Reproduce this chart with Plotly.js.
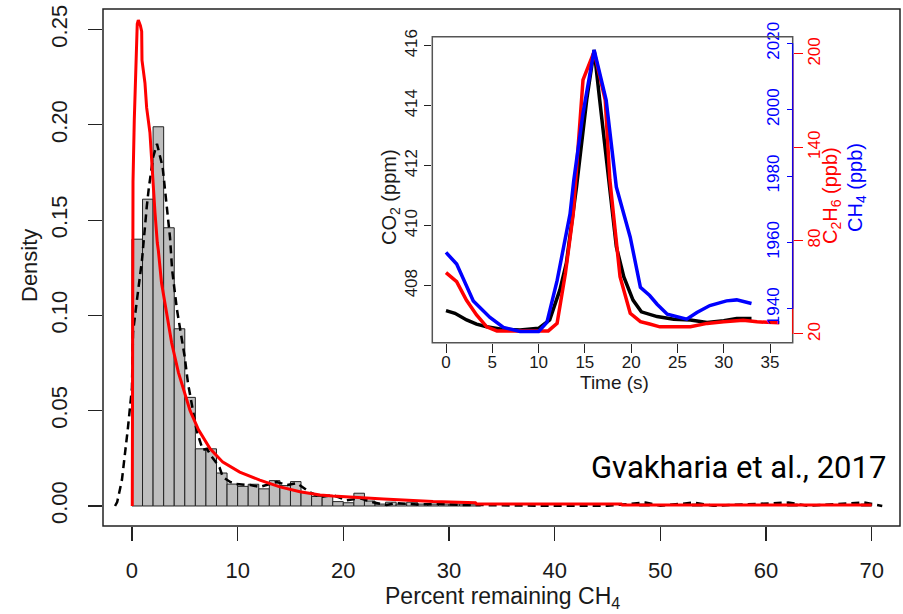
<!DOCTYPE html>
<html>
<head>
<meta charset="utf-8">
<script src="https://cdn.plot.ly/plotly-3.0.1.min.js"></script>
<style>html,body{margin:0;padding:0;background:#fff}#chart{width:903px;height:614px}</style>
</head>
<body>
<div id="chart"></div>
<script>
// ---- Main histogram (density per 1-unit bin, left edges) ----
const histLeft = [0,1,2,3,4,5,6,7,8,9,10,11,12,13,14,15,16,17,18,19,20,21,22,23,24,25,26,27,28,29,30,31,32,48,53,62,69];
const histDensity = [0.140,0.161,0.199,0.146,0.093,0.057,0.030,0.030,0.0173,0.0115,0.0103,0.0114,0.009,0.0133,0.0107,0.0128,0.007,0.005,0.005,0.0023,0.0017,0.0067,0.0026,0.001,0.002,0.001,0.002,0.001,0.001,0.001,0.001,0.001,0.001,0.001,0.001,0.001,0.001];

// ---- Kernel density (dashed black) ----
const kdeX = [-1.6,-1.4,-0.95,-0.66,-0.38,0,0.1,0.47,0.95,1.4,1.6,2.0,2.37,2.9,3.4,3.6,3.8,4.26,5.0,5.3,6.1,6.7,7.1,7.4,8.0,8.3,8.6,9.3,9.9,11.2,12.1,13.7,14.7,15.6,16.8,17.8,19.0,20.3,21.6,22.8,24.1,25.0,27,29,31,33,36,40,45,48.6,50,53.2,55,62.1,64,69.3,71];
const kdeY = [0,0.002,0.0136,0.026,0.041,0.062,0.091,0.108,0.129,0.157,0.167,0.183,0.190,0.178,0.154,0.141,0.124,0.103,0.078,0.0645,0.040,0.0294,0.030,0.027,0.0226,0.020,0.0152,0.0126,0.0115,0.011,0.0100,0.0126,0.011,0.012,0.0073,0.0047,0.0058,0.003,0.004,0.002,0.0005,0.0015,0.0008,0.001,0.0006,0.0004,0.0003,0.0001,0.0001,0.0018,0.0001,0.0018,0.0001,0.0018,0.0001,0.0018,0];

// ---- Fitted distribution (red) ----
const fitX = [0.03,0.06,0.1,0.22,0.38,0.5,0.6,0.8,0.92,0.95,1.23,1.39,1.7,1.86,2.0,2.18,2.4,2.5,2.8,3.3,3.76,4.4,5.0,5.5,6.3,7.4,8.6,10.2,12.1,14.0,15.9,17.8,19.0,20.3,23.8,28.5,32.5,32.6,46.3,46.4,70];
const fitY = [0,0.1,0.17,0.2025,0.229,0.253,0.255,0.252,0.249,0.234,0.222,0.209,0.196,0.1815,0.167,0.154,0.138,0.134,0.117,0.101,0.0855,0.070,0.059,0.050,0.040,0.030,0.023,0.0178,0.0136,0.010,0.0075,0.0058,0.0052,0.0047,0.0037,0.0023,0.0017,0.0011,0.0011,0.0005,0.0005];

// ---- Inset time series ----
const co2Time = [0,0.97,2.23,3.3,4.4,6,8,10,11.2,12.3,13.0,14.1,15.2,16,16.6,17.7,18.4,19.2,20.2,21.1,22.8,24.6,26.4,28.2,30,31.4,33];
const co2 = [407.17,407.08,406.86,406.72,406.63,406.55,406.52,406.58,406.86,407.86,408.75,411.3,414.2,415.86,414.2,411.3,409.3,408.3,407.52,407.13,406.97,406.88,406.86,406.77,406.83,406.91,406.91];
const c2h6Time = [0,1.15,2.2,3.3,4.4,5.5,8,11.05,12,12.9,13.75,14.8,16,17.2,17.7,18.8,19.9,21,22,23.1,26.4,28.2,30,32.1,33.6,36];
const c2h6 = [59.4,53.6,41.8,32.2,24.6,22.0,22.0,22.0,26.8,59,97.6,183.3,201.5,170.4,119,56.8,33.3,27.9,26.4,24.6,24.6,26.8,27.8,28.9,27.8,27.2];
const ch4Time = [0,1.15,2.95,4.75,6.2,8,10,10.9,12,13.4,13.8,14.8,16,17.3,18.4,19.9,21,22,22.8,23.9,26,27.1,28.5,30.3,31.4,33];
const ch4 = [1957.0,1953.5,1942.4,1937.4,1934.4,1933.2,1933.2,1935.9,1948.5,1968.6,1978.7,1998.9,2018,2002.9,1976.7,1961.6,1946.5,1944,1941.4,1938.4,1936.9,1938.9,1941,1942.4,1942.7,1941.6];

// tick labels
const mainXTicks = [0,10,20,30,40,50,60,70];
const mainYTicks = [0,0.05,0.10,0.15,0.20,0.25];
const insetXTicks = [0,5,10,15,20,25,30,35];
const co2Ticks = [408,410,412,414,416];
const c2h6Ticks = [20,80,140,200];
const ch4Ticks = [1940,1960,1980,2000,2020];

const FONT = 'Liberation Sans, Arial, sans-serif';
const TXT = '#1a1a1a';

const traces = [
  {type:'bar', x: histLeft.map(v => v + 0.5), y: histDensity, width: 1,
   marker:{color:'#bebebe', line:{color:'#222', width:1}}, xaxis:'x', yaxis:'y', hoverinfo:'skip'},
  {type:'scatter', mode:'lines', x: kdeX, y: kdeY, line:{color:'#000', width:2.5, dash:'8px,5px'}, xaxis:'x', yaxis:'y'},
  {type:'scatter', mode:'lines', x: fitX, y: fitY, line:{color:'#ff0000', width:3}, xaxis:'x', yaxis:'y'},
  {type:'scatter', mode:'lines', x: co2Time, y: co2, line:{color:'#000', width:3.5}, xaxis:'x2', yaxis:'y2'},
  {type:'scatter', mode:'lines', x: c2h6Time, y: c2h6, line:{color:'#ff0000', width:3.5}, xaxis:'x2', yaxis:'y3'},
  {type:'scatter', mode:'lines', x: ch4Time, y: ch4, line:{color:'#0000ff', width:3.5}, xaxis:'x2', yaxis:'y4'}
];

const L = 103, R = 900, T = 9, B = 526, W = 903, H = 614;
const px = v => (v - L) / (R - L);
const py = v => (B - v) / (B - T);
const inX0 = px(432.3), inX1 = px(792.7), inY0 = py(342.7), inY1 = py(36.7);

const layout = {
  width: W, height: H,
  margin: {l: L, r: W - R, t: T, b: H - B, pad: 0},
  paper_bgcolor: '#fff', plot_bgcolor: '#fff',
  showlegend: false, barmode: 'overlay', bargap: 0,
  font: {family: FONT, color: TXT},
  xaxis: {range: [-2.74, 72.68], tickvals: mainXTicks, ticks: 'outside', ticklen: 14, tickwidth: 1.2, tickcolor: '#222',
          showgrid: false, zeroline: false, showline: false, tickfont: {size: 22, color: TXT, family: FONT}, ticklabelstandoff: 11},
  yaxis: {range: [-0.0105, 0.2608], tickvals: mainYTicks, tickformat: '.2f', ticks: 'outside', ticklen: 14, tickwidth: 1.2, tickcolor: '#222',
          showgrid: false, zeroline: false, showline: false, tickangle: -90, tickfont: {size: 22, color: TXT, family: FONT}, ticklabelstandoff: 12},
  xaxis2: {domain: [inX0, inX1], anchor: 'y2', range: [-1.48, 37.45], tickvals: insetXTicks, ticks: 'outside', ticklen: 9, tickcolor: '#222',
           showgrid: false, zeroline: false, showline: false, tickfont: {size: 17, color: TXT, family: FONT}, ticklabelstandoff: -5},
  yaxis2: {domain: [inY0, inY1], anchor: 'x2', range: [406.1, 416.3], tickvals: co2Ticks, ticks: 'outside', ticklen: 7, tickcolor: '#222',
           showgrid: false, zeroline: false, showline: false, tickangle: -90, tickfont: {size: 17, color: TXT, family: FONT}, ticklabelstandoff: 1},
  yaxis3: {overlaying: 'y2', anchor: 'x2', side: 'right', range: [14.4, 211.1], tickvals: c2h6Ticks, ticks: 'outside', ticklen: 9, tickcolor: '#ff0000',
           showgrid: false, zeroline: false, showline: false, tickangle: -90, tickfont: {size: 17, color: '#ff0000', family: FONT}, ticklabelstandoff: -3},
  yaxis4: {overlaying: 'y2', anchor: 'free', position: inX1, side: 'left', range: [1929.8, 2022], tickvals: ch4Ticks, ticks: 'outside', ticklen: 6, tickcolor: '#0000ff',
           showgrid: false, zeroline: false, showline: false, tickangle: -90, tickfont: {size: 17, color: '#0000ff', family: FONT}, ticklabelstandoff: 1},
  shapes: [
    {type: 'rect', xref: 'paper', yref: 'paper', x0: 0, x1: 1, y0: 0, y1: 1, line: {color: '#222', width: 1.5}},
    {type: 'rect', xref: 'paper', yref: 'paper', x0: inX0, x1: inX1, y0: inY0, y1: inY1, line: {color: '#555', width: 1.5}},
    {type: 'line', xref: 'paper', yref: 'y3', x0: inX1, x1: inX1, y0: 20, y1: 200, line: {color: '#ff0000', width: 1.2}},
    {type: 'line', xref: 'paper', yref: 'y4', x0: inX1, x1: inX1, y0: 1940, y1: 2020, line: {color: '#0000ff', width: 1.2}}
  ],
  annotations: [
    {text: 'Percent remaining CH<sub>4</sub>', xref: 'paper', yref: 'paper', x: px(502), y: py(597), xanchor: 'center', yanchor: 'middle', showarrow: false, font: {size: 23, color: TXT, family: FONT}},
    {text: 'Density', xref: 'paper', yref: 'paper', x: px(29), y: py(266), xanchor: 'center', yanchor: 'middle', textangle: -90, showarrow: false, font: {size: 22, color: TXT, family: FONT}},
    {text: 'CO<sub>2</sub> (ppm)', xref: 'paper', yref: 'paper', x: px(390), y: py(197), xanchor: 'center', yanchor: 'middle', textangle: -90, showarrow: false, font: {size: 20, color: TXT, family: FONT}},
    {text: 'C<sub>2</sub>H<sub>6</sub> (ppb)', xref: 'paper', yref: 'paper', x: px(832), y: py(196), xanchor: 'center', yanchor: 'middle', textangle: -90, showarrow: false, font: {size: 20, color: '#ff0000', family: FONT}},
    {text: 'CH<sub>4</sub> (ppb)', xref: 'paper', yref: 'paper', x: px(857), y: py(188), xanchor: 'center', yanchor: 'middle', textangle: -90, showarrow: false, font: {size: 20, color: '#0000ff', family: FONT}},
    {text: 'Time (s)', xref: 'paper', yref: 'paper', x: px(614), y: py(383), xanchor: 'center', yanchor: 'middle', showarrow: false, font: {size: 19, color: TXT, family: FONT}},
    {text: 'Gvakharia et al., 2017', xref: 'paper', yref: 'paper', x: px(888), y: py(467), xanchor: 'right', yanchor: 'middle', showarrow: false, font: {size: 31, color: '#000', family: 'Roboto, sans-serif'}}
  ]
};

Plotly.newPlot('chart', traces, layout, {displayModeBar: false, staticPlot: true});
</script>
</body>
</html>
